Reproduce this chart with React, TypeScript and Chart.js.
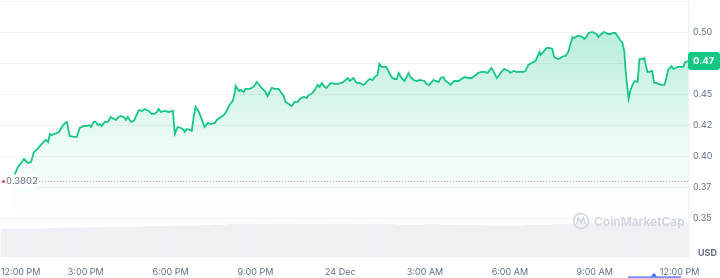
import React, { useEffect, useRef } from 'react';
import { Chart, registerables } from 'chart.js';

Chart.register(...registerables);

// minutes since 12:00 PM (23 Dec)
const TIMES = [
  28, 36, 40, 49, 55, 59, 64, 70, 78, 83, 91, 95, 100, 104, 108, 114, 123, 129, 136, 140,
  144, 146, 155, 161, 167, 176, 182, 187, 191, 197, 201, 206, 210, 214, 220, 227, 233, 240, 244, 250,
  254, 261, 265, 269, 276, 282, 286, 293, 299, 305, 314, 320, 326, 331, 335, 339, 348, 356, 365, 369,
  375, 382, 388, 390, 394, 401, 405, 409, 413, 420, 426, 432, 439, 445, 454, 458, 464, 473, 479, 485,
  492, 496, 498, 505, 509, 515, 519, 528, 536, 543, 547, 553, 560, 566, 570, 575, 581, 589, 594, 600,
  604, 611, 617, 623, 630, 634, 642, 649, 653, 659, 666, 672, 676, 681, 687, 691, 700, 708, 714, 723,
  729, 736, 740, 748, 755, 761, 770, 776, 782, 789, 793, 799, 803, 808, 814, 818, 823, 829, 835, 840,
  844, 850, 856, 861, 865, 869, 876, 882, 888, 899, 903, 909, 918, 922, 929, 933, 939, 943, 950, 954,
  962, 971, 977, 984, 992, 999, 1005, 1013, 1020, 1026, 1033, 1037, 1041, 1047, 1052, 1056, 1062, 1068, 1077, 1081,
  1088, 1094, 1098, 1109, 1113, 1119, 1126, 1134, 1138, 1143, 1145, 1151, 1158, 1164, 1170, 1174, 1183, 1187, 1194, 1198,
  1204, 1208, 1213, 1217, 1223, 1227, 1234, 1238, 1242, 1247, 1255, 1259, 1264, 1268, 1274, 1280, 1289, 1293, 1300, 1304,
  1310, 1314, 1319, 1323, 1325, 1329, 1332, 1336, 1342, 1346, 1351, 1355, 1361, 1365, 1372, 1376, 1382, 1386, 1391, 1395,
  1401, 1408, 1412, 1416, 1423, 1427, 1431, 1437, 1444, 1448, 1452, 1459,
];

const PRICES = [
  0.3839, 0.3912, 0.3928, 0.3977, 0.3952, 0.3944, 0.3952, 0.4033, 0.4057, 0.4081, 0.4113, 0.4130, 0.4113, 0.4178, 0.4170, 0.4178, 0.4194, 0.4234, 0.4267, 0.4275,
  0.4194, 0.4162, 0.4154, 0.4154, 0.4226, 0.4242, 0.4242, 0.4250, 0.4234, 0.4275, 0.4275, 0.4250, 0.4258, 0.4242, 0.4275, 0.4275, 0.4315, 0.4299, 0.4291, 0.4315,
  0.4323, 0.4315, 0.4291, 0.4315, 0.4275, 0.4283, 0.4315, 0.4371, 0.4363, 0.4379, 0.4363, 0.4339, 0.4339, 0.4355, 0.4379, 0.4355, 0.4363, 0.4355, 0.4363, 0.4178,
  0.4234, 0.4226, 0.4210, 0.4194, 0.4218, 0.4210, 0.4202, 0.4315, 0.4396, 0.4355, 0.4299, 0.4234, 0.4267, 0.4258, 0.4267, 0.4291, 0.4307, 0.4331, 0.4363, 0.4412,
  0.4444, 0.4508, 0.4565, 0.4524, 0.4533, 0.4516, 0.4541, 0.4541, 0.4557, 0.4597, 0.4581, 0.4549, 0.4524, 0.4484, 0.4516, 0.4549, 0.4541, 0.4541, 0.4516, 0.4484,
  0.4436, 0.4420, 0.4404, 0.4436, 0.4436, 0.4460, 0.4476, 0.4468, 0.4492, 0.4500, 0.4533, 0.4573, 0.4557, 0.4589, 0.4557, 0.4549, 0.4589, 0.4581, 0.4581, 0.4589,
  0.4605, 0.4629, 0.4605, 0.4629, 0.4589, 0.4589, 0.4573, 0.4597, 0.4621, 0.4613, 0.4637, 0.4653, 0.4742, 0.4718, 0.4718, 0.4718, 0.4678, 0.4637, 0.4621, 0.4621,
  0.4670, 0.4629, 0.4605, 0.4637, 0.4670, 0.4637, 0.4613, 0.4605, 0.4613, 0.4605, 0.4581, 0.4573, 0.4613, 0.4605, 0.4597, 0.4629, 0.4637, 0.4605, 0.4589, 0.4573,
  0.4605, 0.4605, 0.4621, 0.4637, 0.4629, 0.4629, 0.4645, 0.4670, 0.4678, 0.4678, 0.4670, 0.4694, 0.4710, 0.4670, 0.4629, 0.4645, 0.4678, 0.4702, 0.4686, 0.4670,
  0.4686, 0.4678, 0.4678, 0.4678, 0.4686, 0.4734, 0.4750, 0.4766, 0.4798, 0.4839, 0.4815, 0.4839, 0.4871, 0.4871, 0.4863, 0.4798, 0.4782, 0.4790, 0.4806, 0.4806,
  0.4839, 0.4895, 0.4960, 0.4952, 0.4968, 0.4968, 0.4960, 0.4944, 0.4960, 0.4992, 0.5000, 0.4992, 0.4984, 0.4960, 0.4984, 0.5000, 0.4984, 0.4984, 0.4992, 0.4992,
  0.4960, 0.4935, 0.4911, 0.4839, 0.4718, 0.4557, 0.4460, 0.4533, 0.4589, 0.4605, 0.4597, 0.4782, 0.4782, 0.4790, 0.4678, 0.4678, 0.4686, 0.4589, 0.4589, 0.4581,
  0.4573, 0.4573, 0.4629, 0.4694, 0.4726, 0.4702, 0.4710, 0.4718, 0.4718, 0.4718, 0.4758, 0.4766,
];

// volume bars (30-minute buckets, minutes since 12:00 PM), in millions USD
const VOL_TIMES = [
  15, 45, 75, 105, 135, 165, 195, 225, 255, 285, 315, 345, 375, 405, 435, 465, 495, 525, 555, 585,
  615, 645, 675, 705, 735, 765, 795, 825, 855, 885, 915, 945, 975, 1005, 1035, 1065, 1095, 1125, 1155, 1185,
  1215, 1245, 1275, 1305, 1335, 1365, 1395, 1425, 1455,
];
const VOLUMES = [
  219, 219, 219, 223, 227, 227, 230, 234, 234, 234, 238, 238, 242, 242, 246, 250, 258, 258, 254, 258,
  258, 254, 254, 258, 258, 254, 258, 254, 250, 250, 254, 250, 246, 246, 242, 242, 242, 250, 250, 254,
  258, 262, 262, 262, 266, 266, 266, 266, 266,
];

const X_TICKS = [0, 180, 360, 540, 720, 900, 1080, 1260, 1440];
const X_LABELS = ['12:00 PM', '3:00 PM', '6:00 PM', '9:00 PM', '24 Dec', '3:00 AM', '6:00 AM', '9:00 AM', '12:00 PM'];
const Y_TICKS = [0.35, 0.375, 0.4, 0.425, 0.45, 0.475, 0.5, 0.525];
const Y_LABELS = ['0.35', '0.37', '0.40', '0.42', '0.45', '0.47', '0.50', ''];
const OPEN_PRICE = 0.3802;
const CURRENCY = 'USD';
const BRAND = 'CoinMarketCap';

const GREEN = '#16c784';
const LABEL = '#616e85';
const FONT = 'Inter, "Noto Sans", sans-serif';

const overlayPlugin = {
  id: 'overlay',
  afterDraw(chart: any) {
    const { ctx, chartArea, scales } = chart;
    const y = scales.y;
    ctx.save();

    // open price dotted line + label
    const oy = Math.round(y.getPixelForValue(OPEN_PRICE)) + 0.5;
    ctx.setLineDash([1, 2]);
    ctx.strokeStyle = 'rgba(176,150,162,0.9)';
    ctx.lineWidth = 1;
    ctx.beginPath();
    ctx.moveTo(chartArea.left + 36, oy);
    ctx.lineTo(chartArea.right, oy);
    ctx.stroke();
    ctx.setLineDash([]);
    ctx.fillStyle = '#ffffff';
    ctx.fillRect(chartArea.left, oy - 7, 35, 14);
    ctx.fillStyle = '#ea3943';
    ctx.beginPath();
    ctx.arc(chartArea.left + 3.5, oy, 1.5, 0, Math.PI * 2);
    ctx.fill();
    ctx.fillStyle = LABEL;
    ctx.font = `9.5px ${FONT}`;
    ctx.textAlign = 'left';
    ctx.textBaseline = 'middle';
    ctx.fillText(OPEN_PRICE.toFixed(4), chartArea.left + 6, oy);

    // watermark
    ctx.strokeStyle = '#cfd5df';
    ctx.fillStyle = '#cfd5df';
    ctx.lineWidth = 1.6;
    const lx = chartArea.right - 107;
    const ly = chartArea.bottom - 36;
    ctx.beginPath();
    ctx.arc(lx, ly, 7.5, 0, Math.PI * 2);
    ctx.stroke();
    ctx.beginPath();
    ctx.moveTo(lx - 4.5, ly + 3);
    ctx.lineTo(lx - 2.5, ly - 3);
    ctx.lineTo(lx, ly + 1.5);
    ctx.lineTo(lx + 2.5, ly - 3);
    ctx.lineTo(lx + 4, ly + 2.5);
    ctx.stroke();
    ctx.font = `600 12px ${FONT}`;
    ctx.textAlign = 'left';
    ctx.fillText(BRAND, lx + 13, ly + 1);

    // current price badge
    const last = PRICES[PRICES.length - 1];
    const by = y.getPixelForValue(last);
    const bx = chartArea.right;
    const bw = chart.width - bx;
    ctx.fillStyle = GREEN;
    ctx.beginPath();
    (ctx as any).roundRect(bx, by - 9, bw, 18, 3);
    ctx.fill();
    ctx.fillStyle = '#ffffff';
    ctx.font = `bold 9.5px ${FONT}`;
    ctx.textAlign = 'left';
    ctx.fillText((Math.floor(last * 100) / 100).toFixed(2), bx + 5, by + 0.5);

    // currency unit
    ctx.fillStyle = LABEL;
    ctx.font = `bold 9px ${FONT}`;
    ctx.fillText(CURRENCY, chartArea.right + 10, chartArea.bottom - 4);

    // range navigator hint
    ctx.fillStyle = '#3861fb';
    ctx.fillRect(chartArea.right - 60, chart.height - 1.5, 53, 1.2);
    ctx.beginPath();
    ctx.moveTo(chartArea.right - 37, chart.height - 1.5);
    ctx.lineTo(chartArea.right - 34, chart.height - 5);
    ctx.lineTo(chartArea.right - 31, chart.height - 1.5);
    ctx.fill();

    ctx.restore();
  },
};

export default function App() {
  const ref = useRef<HTMLCanvasElement | null>(null);

  useEffect(() => {
    document.body.style.margin = '0';
    const canvas = ref.current!;
    const chart = new Chart(canvas, {
      type: 'line',
      data: {
        datasets: [
          {
            type: 'line',
            data: TIMES.map((t, i) => ({ x: t, y: PRICES[i] })),
            borderColor: GREEN,
            borderWidth: 1.8,
            pointRadius: 0,
            tension: 0,
            fill: 'start',
            yAxisID: 'y',
            order: 1,
            backgroundColor: (c: any) => {
              const ch = c.chart;
              if (!ch.chartArea) return 'rgba(22,199,132,0.1)';
              const ys = ch.scales.y;
              const g = ch.ctx.createLinearGradient(0, ys.getPixelForValue(0.5), 0, ys.getPixelForValue(0.35));
              g.addColorStop(0, 'rgba(22,199,132,0.30)');
              g.addColorStop(0.6, 'rgba(22,199,132,0.08)');
              g.addColorStop(1, 'rgba(22,199,132,0)');
              return g;
            },
          } as any,
          {
            type: 'bar',
            data: VOL_TIMES.map((t, i) => ({ x: t, y: VOLUMES[i] })),
            backgroundColor: '#eef0f4',
            yAxisID: 'yv',
            barPercentage: 1,
            categoryPercentage: 1,
            order: 2,
          } as any,
        ],
      },
      options: {
        responsive: false,
        animation: false,
        devicePixelRatio: 1,
        layout: { padding: { top: 1, left: 0, right: 0, bottom: 0 } },
        plugins: { legend: { display: false }, tooltip: { enabled: false } },
        scales: {
          x: {
            type: 'linear',
            min: -2,
            max: 1458,
            offset: false,
            grid: { display: false, offset: false },
            border: { display: false },
            ticks: {
              autoSkip: false,
              maxRotation: 0,
              align: 'inner',
              padding: 2,
              color: LABEL,
              font: { family: FONT, size: 9 },
              callback: (_v: any, i: number) => X_LABELS[i] ?? '',
            },
            afterBuildTicks: (s: any) => {
              s.ticks = [...X_TICKS, 1620].map((v) => ({ value: v }));
            },
            afterFit: (s: any) => {
              s.height = 21;
              s.paddingLeft = 0;
              s.paddingRight = 0;
            },
          },
          y: {
            position: 'right',
            min: 0.31855,
            max: 0.525,
            grid: { color: '#eff2f5', drawTicks: false },
            border: { display: true, color: '#eff2f5' },
            ticks: {
              padding: 5,
              color: LABEL,
              font: { family: FONT, size: 9 },
              callback: (_v: any, i: number) => Y_LABELS[i] ?? '',
            },
            afterBuildTicks: (s: any) => {
              s.ticks = Y_TICKS.map((v) => ({ value: v }));
            },
            afterFit: (s: any) => {
              s.width = 32;
              s.paddingTop = 0;
              s.paddingBottom = 0;
            },
          },
          yv: { display: false, min: 0, max: 2000 },
        },
      } as any,
      plugins: [overlayPlugin],
    });
    return () => chart.destroy();
  }, []);

  return (
    <div style={{ width: 720, height: 278 }}>
      <canvas ref={ref} width={720} height={278} style={{ display: 'block' }} />
    </div>
  );
}
